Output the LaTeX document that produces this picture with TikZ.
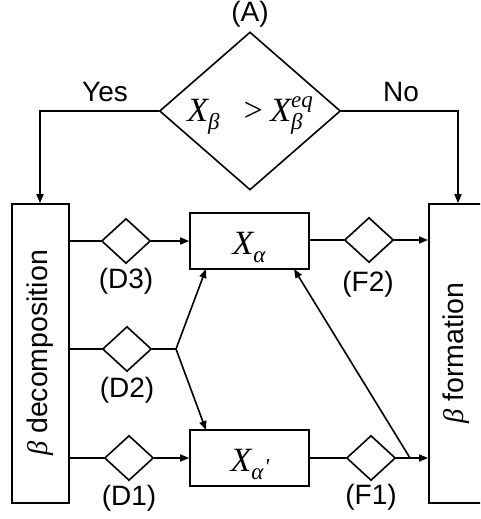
\documentclass[tikz,border=0pt]{standalone}
\usepackage{fontspec}
\setmainfont{Liberation Sans}
\newfontfamily\varfont{Liberation Serif}[UprightFont=* Italic]
\usetikzlibrary{arrows.meta,shapes.geometric}
% italic variable with a lowered subscript
\newcommand\subsize{\fontsize{23}{23}\selectfont\varfont}
\newcommand\varsub[2]{{\varfont #1\lower8pt\hbox{\subsize #2}}}
\begin{document}
\begin{tikzpicture}[x=1pt,y=-1pt,
  line width=1.6pt,
  arr/.style={-{Triangle[length=9pt,width=7pt]}},
  box/.style={draw,rectangle,inner sep=0pt},
  gate/.style={draw,diamond,minimum width=49pt,minimum height=45pt,inner sep=0pt,aspect=1.1},
  lbl/.style={font=\fontsize{28}{30}\selectfont,inner sep=0pt},
  side/.style={font=\fontsize{28.5}{30}\selectfont,inner sep=0pt,rotate=90},
  mth/.style={font=\fontsize{34}{36}\selectfont,inner sep=0pt}]
\useasboundingbox (0,0) rectangle (480,519);
\clip (0,0) rectangle (480,519);

% decision
\node[draw,diamond,minimum width=181pt,minimum height=158pt,inner sep=0pt,aspect=1.15] (A) at (250,111) {};
\node[mth] at (245,116) {\varsub{X}{β}\hspace{22pt}{\varfont >}\hspace{6pt}{\varfont X}\rlap{\raise14pt\hbox{\subsize eq}}\lower8pt\hbox{\subsize β}};
\node[lbl] (Alab) at (250,14) {(A)};
\node[lbl] (yes) at (105,92) {Yes};
\node[lbl] (no) at (401,92) {No};

% side blocks
\node[box,minimum width=57pt,minimum height=299pt] (dec) at (40.5,353.5) {};
\node[side] at (40,353) {{\varfont β} decomposition};
\node[box,minimum width=100pt,minimum height=299pt,anchor=west] (form) at (428,353.5) {};
\node[side] at (456,353) {{\varfont β} formation};

% phases
\node[box,minimum width=119pt,minimum height=56pt] (Xa) at (249.5,241) {};
\node[mth] at (249,247) {\varsub{X}{α}};
\node[box,minimum width=119pt,minimum height=56pt] (Xb) at (249.5,458) {};
\node[mth] at (250,464) {\varsub{X}{α\kern1pt\raise5pt\hbox{ʹ}}};

% small gates
\node[gate] (D3) at (126,241) {};
\node[gate] (D2) at (127,349) {};
\node[gate] (D1) at (129,458) {};
\node[gate] (F2) at (369,240) {};
\node[gate] (F1) at (371,458) {};
\node[lbl] at (126,281) {(D3)};
\node[lbl] at (127,390) {(D2)};
\node[lbl] at (129,498) {(D1)};
\node[lbl] at (368,284) {(F2)};
\node[lbl] at (371,497) {(F1)};

% connectors from the decision
\draw[arr] (A.west) -- (40,111) -- (dec.north -| 40,0);
\draw[arr] (A.east) -- (458,111) -- (form.north -| 458,0);

% decomposition paths
\draw (dec.east |- D3) -- (D3.west);
\draw[arr] (D3.east) -- (Xa.west |- D3);
\draw (dec.east |- D2) -- (D2.west);
\coordinate (br) at (176,349);
\draw (D2.east) -- (br);
\draw[arr] (br) -- (206,269);
\draw[arr] (br) -- (206,430);
\draw (dec.east |- D1) -- (D1.west);
\draw[arr] (D1.east) -- (Xb.west |- D1);

% formation paths
\draw (Xa.east |- F2) -- (F2.west);
\draw[arr] (F2.east) -- (form.west |- F2);
\draw (Xb.east |- F1) -- (F1.west);
\draw[arr] (F1.east) -- (form.west |- F1);
\coordinate (bf) at (410,458);
\draw[arr] (bf) -- (294,269);
\end{tikzpicture}
\end{document}
